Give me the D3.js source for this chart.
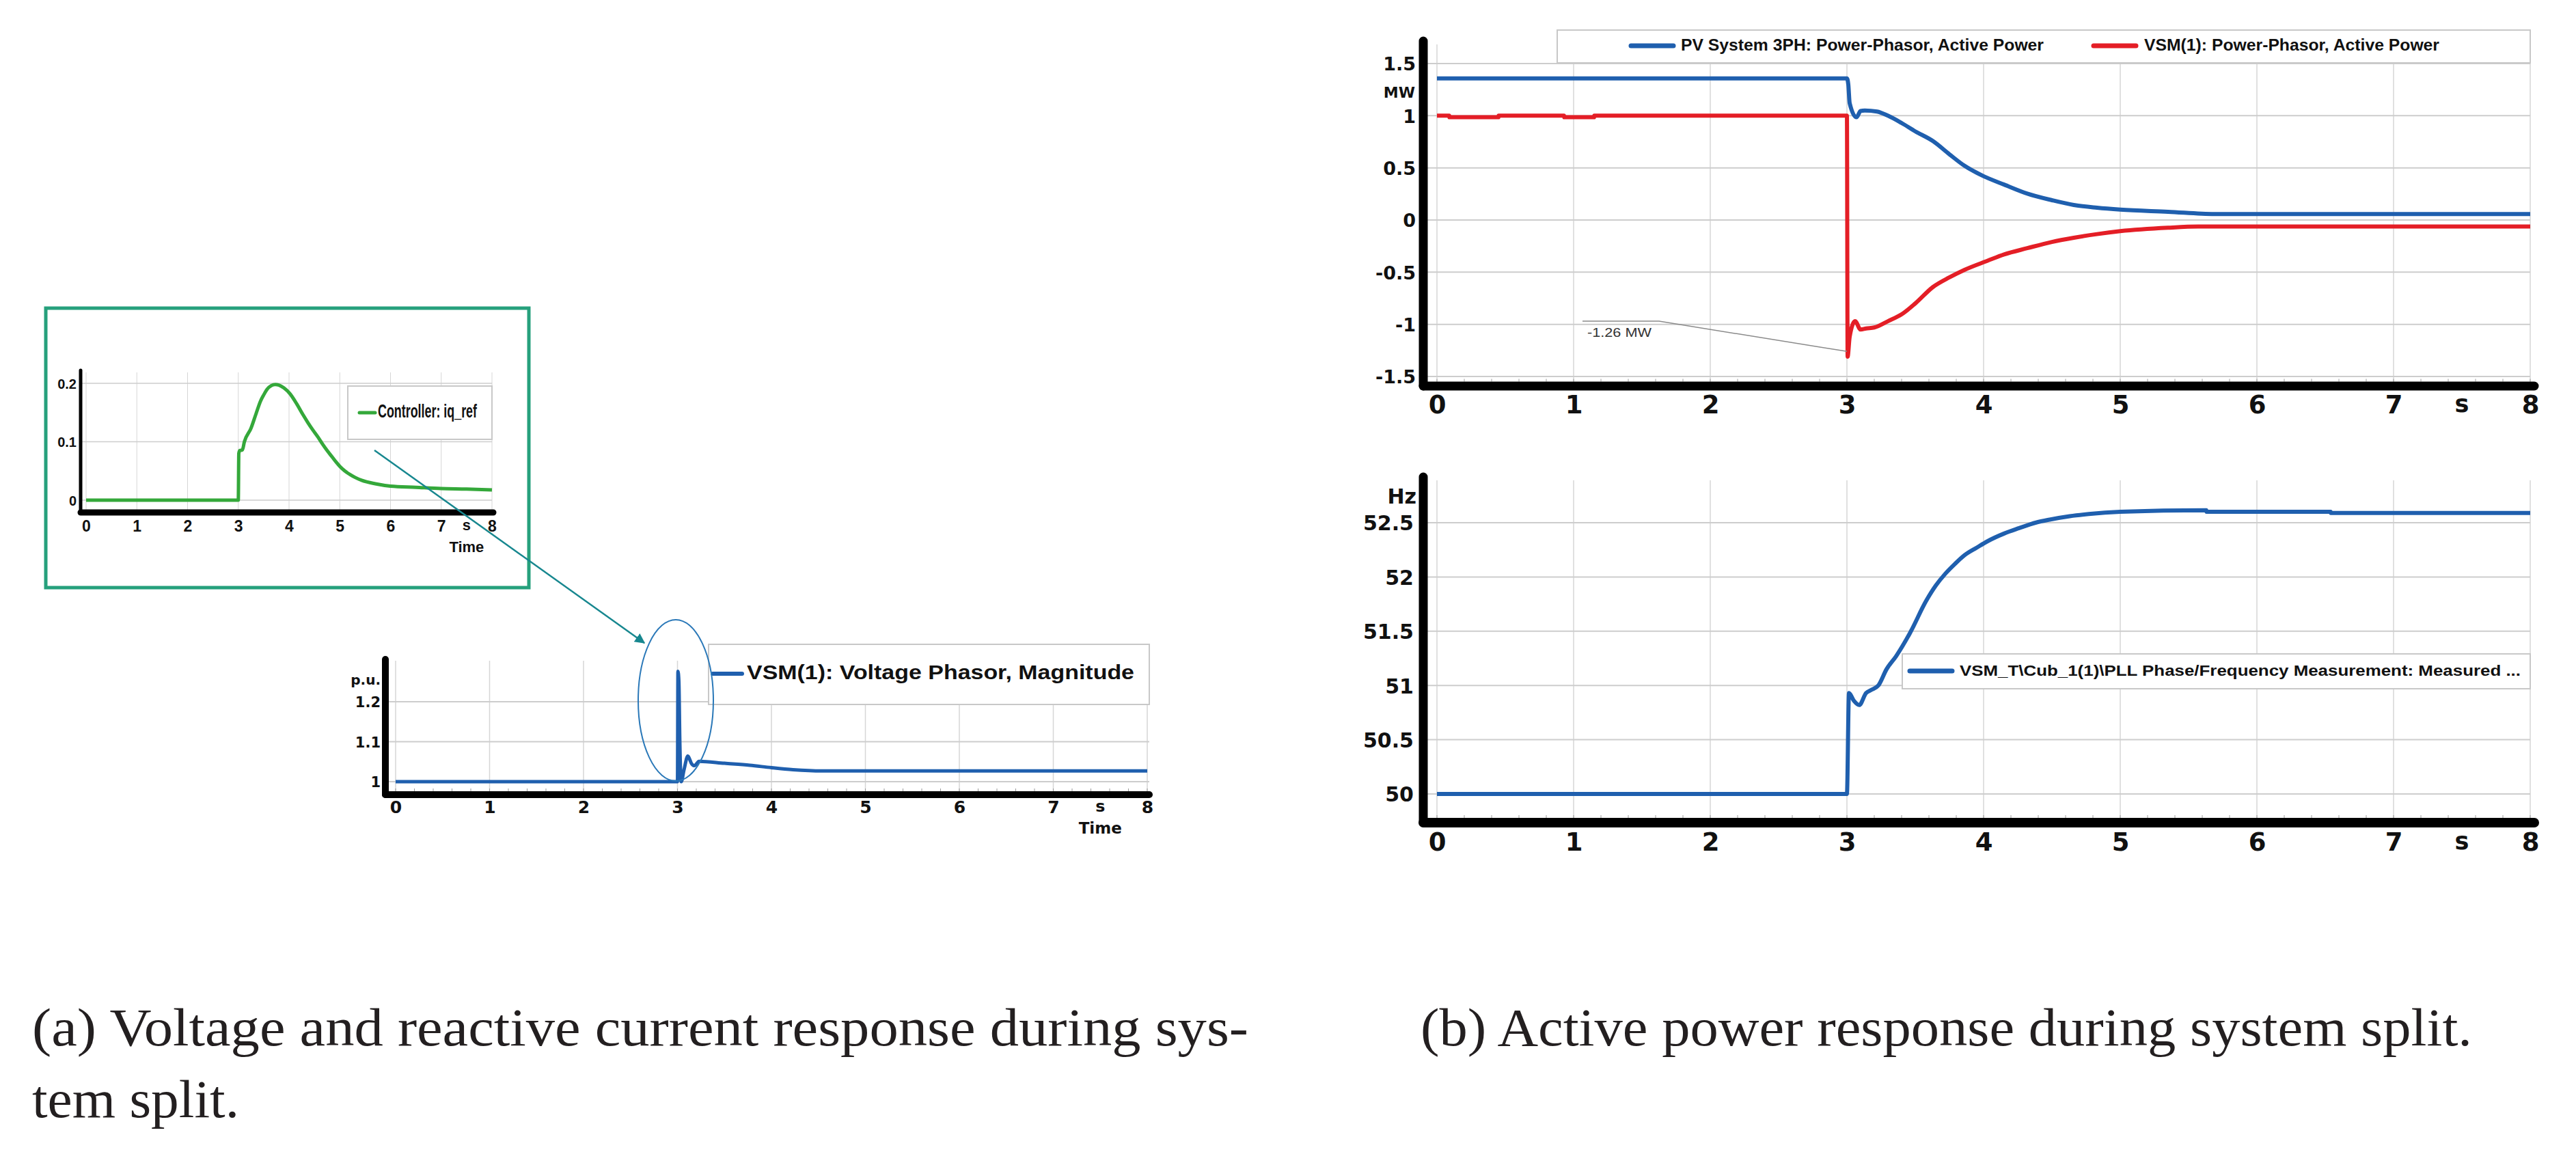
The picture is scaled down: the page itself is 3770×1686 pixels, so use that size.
<!DOCTYPE html>
<html><head><meta charset="utf-8">
<script src="https://cdn.jsdelivr.net/npm/d3@7"></script>
<style>html,body{margin:0;padding:0;background:#fff} svg{display:block}</style>
</head><body>
<svg id="chart" width="3770" height="1686"></svg>
<script>
// ---------------- DATA ----------------
const timeTicks = [0, 1, 2, 3, 4, 5, 6, 7, 8];
const timeTickLabels = ["0", "1", "2", "3", "4", "5", "6", "7", "8"];

// Inset: Controller iq_ref
const iqTicks = [0, 0.1, 0.2];
const iqTickLabels = ["0", "0.1", "0.2"];
const iqTime = [0, 3.0, 3.01, 3.03, 3.08, 3.12, 3.25, 3.35, 3.44, 3.5, 3.57, 3.65, 3.73, 3.8, 3.9, 4.02, 4.15, 4.27, 4.37, 4.47, 4.57, 4.66, 4.75, 4.85, 4.93, 5.01, 5.1, 5.2, 5.3, 5.43, 5.7, 6.0, 6.5, 7.0, 7.5, 8.0];
const iqRef  = [0, 0, 0.08, 0.085, 0.086, 0.1, 0.123, 0.148, 0.17, 0.18, 0.19, 0.196, 0.198, 0.197, 0.192, 0.182, 0.165, 0.147, 0.133, 0.12, 0.108, 0.096, 0.085, 0.074, 0.065, 0.057, 0.05, 0.044, 0.039, 0.034, 0.028, 0.024, 0.022, 0.02, 0.019, 0.0175];
const iqLegend = "Controller: iq_ref";

// Voltage magnitude
const vTicks = [1, 1.1, 1.2];
const vTickLabels = ["1", "1.1", "1.2"];
const vTime = [0, 3.0, 3.005, 3.015, 3.025, 3.04, 3.07, 3.11, 3.15, 3.18, 3.23, 3.5, 3.77, 4.0, 4.23, 4.54, 8.0];
const vMag  = [1.0, 1.0, 1.276, 1.25, 1.1, 1.0, 1.03, 1.064, 1.045, 1.04, 1.051, 1.046, 1.041, 1.035, 1.03, 1.027, 1.027];
const vLegend = "VSM(1): Voltage Phasor, Magnitude";

// Active power
const pTicks = [-1.5, -1, -0.5, 0, 0.5, 1, 1.5];
const pTickLabels = ["-1.5", "-1", "-0.5", "0", "0.5", "1", "1.5"];
const pvTime  = [0, 3.0, 3.01, 3.02, 3.07, 3.1, 3.13, 3.22, 3.3, 3.4, 3.5, 3.63, 3.75, 3.86, 4.0, 4.15, 4.32, 4.5, 4.66, 4.83, 5.0, 5.35, 5.69, 8.0];
const pvPower = [1.357, 1.357, 1.30, 1.12, 0.985, 1.045, 1.05, 1.04, 1.0, 0.93, 0.85, 0.756, 0.63, 0.52, 0.42, 0.34, 0.253, 0.19, 0.144, 0.118, 0.1, 0.079, 0.057, 0.057];
const vsmTime  = [0, 0.09, 0.091, 0.45, 0.451, 0.93, 0.931, 1.15, 1.151, 3.0, 3.005, 3.02, 3.06, 3.1, 3.14, 3.2, 3.3, 3.4, 3.5, 3.63, 3.75, 3.86, 4.03, 4.15, 4.32, 4.5, 4.66, 4.83, 5.0, 5.35, 5.57, 8.0];
const vsmPower = [1.0, 1.0, 0.985, 0.985, 1.0, 1.0, 0.985, 0.985, 1.0, 1.0, -1.31, -1.12, -0.97, -1.05, -1.04, -1.03, -0.97, -0.904, -0.8, -0.642, -0.55, -0.478, -0.39, -0.33, -0.27, -0.21, -0.17, -0.135, -0.107, -0.074, -0.063, -0.063];
const pLegend = ["PV System 3PH: Power-Phasor, Active Power", "VSM(1): Power-Phasor, Active Power"];
const annotTime = 3.0;
const annotValue = -1.26;
const annotText = "-1.26 MW";

// Frequency
const fTicks = [50, 50.5, 51, 51.5, 52, 52.5];
const fTickLabels = ["50", "50.5", "51", "51.5", "52", "52.5"];
const fTime = [0, 3.0, 3.015, 3.05, 3.09, 3.14, 3.18, 3.23, 3.29, 3.36, 3.46, 3.58, 3.65, 3.72, 3.79, 3.86, 3.95, 4.03, 4.15, 4.26, 4.38, 4.49, 4.63, 4.77, 5.0, 5.63, 5.631, 6.54, 6.541, 8.0];
const freq  = [50, 50, 50.93, 50.86, 50.82, 50.93, 50.96, 51.0, 51.15, 51.27, 51.48, 51.78, 51.92, 52.03, 52.12, 52.2, 52.27, 52.33, 52.4, 52.45, 52.5, 52.53, 52.56, 52.58, 52.6, 52.615, 52.6, 52.6, 52.59, 52.59];
const fLegend = "VSM_T\\Cub_1(1)\\PLL Phase/Frequency Measurement: Measured ...";

const captionA = ["(a) Voltage and reactive current response during sys-", "tem split."];
const captionB = "(b) Active power response during system split.";

// ---------------- DRAWING ----------------
const svg = d3.select("#chart");
const BLUE = "#1f5fae", RED = "#e41e26", GREEN = "#34a83a";
const TICKFONT = "'DejaVu Sans', 'Liberation Sans', sans-serif";
const LEGFONT = "'Liberation Sans', Arial, sans-serif";
const NARROW = "'Liberation Sans Narrow', 'Liberation Sans', sans-serif";

function drawPanel(c) {
  const g = svg.append("g");
  const x = d3.scaleLinear().domain([0, 8]).range(c.xRange);
  const y = d3.scaleLinear().domain(c.yDomain).range(c.yRange);
  g.append("g").selectAll("line").data(timeTicks).join("line")
    .attr("x1", d => x(d)).attr("x2", d => x(d))
    .attr("y1", c.gridTop).attr("y2", c.axisY)
    .attr("stroke", "#d6d6d6").attr("stroke-width", c.vgW || 1.5);
  g.append("g").selectAll("line").data(c.yTicks).join("line")
    .attr("x1", c.axisX).attr("x2", c.gridRight)
    .attr("y1", d => y(d)).attr("y2", d => y(d))
    .attr("stroke", "#cdcdcd").attr("stroke-width", c.hgW || 2);
  g.append("g").selectAll("line").data(x.ticks(32)).join("line")
    .attr("x1", d => x(d)).attr("x2", d => x(d))
    .attr("y1", c.axisY - c.xBarW / 2 - c.minorLen).attr("y2", c.axisY - c.xBarW / 2)
    .attr("stroke", "#9a9a9a").attr("stroke-width", 1);
  const line = d3.line().x(d => x(d[0])).y(d => y(d[1])).curve(d3.curveMonotoneX);
  c.series.forEach(s => {
    g.append("path").datum(d3.zip(s.t, s.v))
      .attr("d", line).attr("fill", "none")
      .attr("stroke", s.color).attr("stroke-width", s.width)
      .attr("stroke-linejoin", "round");
  });
  if (c.legend) {
    const L = c.legend;
    g.append("rect").attr("x", L.x).attr("y", L.y).attr("width", L.w).attr("height", L.h)
      .attr("fill", "#fff").attr("stroke", "#c8c8c8").attr("stroke-width", 2);
    L.items.forEach(it => {
      g.append("line").attr("x1", it.lx1).attr("x2", it.lx2).attr("y1", it.ly).attr("y2", it.ly)
        .attr("stroke", it.color).attr("stroke-width", it.lw).attr("stroke-linecap", "round");
      g.append("text").attr("x", it.tx).attr("y", it.ty).text(it.text)
        .attr("font-family", L.font).attr("font-weight", "bold").attr("font-size", L.fs)
        .attr("textLength", it.tl).attr("lengthAdjust", "spacingAndGlyphs").attr("fill", "#111");
    });
  }
  g.append("line").attr("x1", c.axisX).attr("x2", c.axisX).attr("y1", c.axisTop).attr("y2", c.axisY)
    .attr("stroke", "#000").attr("stroke-width", c.yBarW).attr("stroke-linecap", "round");
  g.append("line").attr("x1", c.axisX).attr("x2", c.axisRight).attr("y1", c.axisY).attr("y2", c.axisY)
    .attr("stroke", "#000").attr("stroke-width", c.xBarW).attr("stroke-linecap", "round");
  const ya = g.append("g").attr("transform", `translate(${c.yLabelX},0)`)
    .call(d3.axisLeft(y).tickValues(c.yTicks).tickFormat((d, i) => c.yLabels[i]).tickSize(0).tickPadding(0));
  ya.select(".domain").remove();
  ya.selectAll("text").attr("font-family", c.font).attr("font-weight", "bold")
    .attr("font-size", c.yFont).attr("fill", "#111").attr("dy", "0.36em");
  const xa = g.append("g").attr("transform", `translate(0,${c.xBaseline})`)
    .call(d3.axisBottom(x).tickValues(timeTicks).tickFormat((d, i) => timeTickLabels[i]).tickSize(0).tickPadding(0));
  xa.select(".domain").remove();
  xa.selectAll("text").attr("y", 0).attr("dy", null).attr("font-family", c.font).attr("font-weight", "bold")
    .attr("font-size", c.xFont).attr("fill", "#111");
  g.append("text").attr("x", x(7.5)).attr("y", c.xBaseline - 2).attr("text-anchor", "middle")
    .attr("font-family", c.font).attr("font-weight", "bold").attr("font-size", c.xFont * 0.95).attr("fill", "#111").text("s");
  if (c.timeLabel) {
    g.append("text").attr("x", x(7.5)).attr("y", c.timeLabel.y).attr("text-anchor", "middle")
      .attr("font-family", c.font).attr("font-weight", "bold").attr("font-size", c.timeLabel.fs)
      .attr("fill", "#111").text("Time");
  }
  if (c.unit) {
    g.append("text").attr("x", c.unit.x).attr("y", c.unit.y).attr("text-anchor", "end")
      .attr("font-family", c.font).attr("font-weight", "bold").attr("font-size", c.unit.fs)
      .attr("fill", "#111").text(c.unit.text);
  }
  return { g, x, y };
}

// ---- inset box (a) ----
svg.append("rect").attr("x", 67).attr("y", 451).attr("width", 707).attr("height", 409)
  .attr("fill", "#fff").attr("stroke", "#26a07c").attr("stroke-width", 5);

drawPanel({
  xRange: [126, 720], yDomain: [0, 0.2], yRange: [732, 561],
  gridTop: 545, gridRight: 720, axisX: 118, axisTop: 542, axisY: 750, axisRight: 722,
  yBarW: 5, xBarW: 9, minorLen: 0, vgW: 1, hgW: 1.5,
  yTicks: iqTicks, yLabels: iqTickLabels, yLabelX: 112, yFont: 20, xBaseline: 778, xFont: 23,
  font: NARROW, timeLabel: { y: 808, fs: 22 },
  series: [{ t: iqTime, v: iqRef, color: GREEN, width: 5 }],
  legend: { x: 509, y: 565, w: 211, h: 78, font: NARROW, fs: 28,
    items: [{ lx1: 526, lx2: 549, ly: 604, lw: 5, color: GREEN, tx: 553, ty: 611, tl: 145, text: iqLegend }] }
});

// ---- voltage plot (a) ----
drawPanel({
  xRange: [579, 1679], yDomain: [1, 1.2], yRange: [1144, 1027],
  gridTop: 967, gridRight: 1682, axisX: 564, axisTop: 965, axisY: 1163, axisRight: 1682,
  yBarW: 10, xBarW: 10, minorLen: 4,
  yTicks: vTicks, yLabels: vTickLabels, yLabelX: 557, yFont: 21, xBaseline: 1190, xFont: 25,
  font: TICKFONT, timeLabel: { y: 1220, fs: 23 },
  unit: { text: "p.u.", x: 557, y: 1002, fs: 20 },
  series: [{ t: vTime, v: vMag, color: BLUE, width: 5 }],
  legend: { x: 1037, y: 943, w: 645, h: 88, font: LEGFONT, fs: 29,
    items: [{ lx1: 1043, lx2: 1086, ly: 986, lw: 6, color: BLUE, tx: 1093, ty: 994, tl: 567, text: vLegend }] }
});

// ellipse highlight and arrow
svg.append("defs").append("marker").attr("id", "arr").attr("viewBox", "0 0 10 10")
  .attr("refX", 9).attr("refY", 5).attr("markerWidth", 6).attr("markerHeight", 6)
  .attr("orient", "auto").append("path").attr("d", "M0,0 L10,5 L0,10 z").attr("fill", "#17878f");
svg.append("ellipse").attr("cx", 989).attr("cy", 1025).attr("rx", 55).attr("ry", 118)
  .attr("fill", "none").attr("stroke", "#2a78b8").attr("stroke-width", 2);
svg.append("line").attr("x1", 548).attr("y1", 659).attr("x2", 943).attr("y2", 941)
  .attr("stroke", "#17878f").attr("stroke-width", 2.5).attr("marker-end", "url(#arr)");

// ---- active power plot (b) ----
const pp = drawPanel({
  xRange: [2103, 3703], yDomain: [-1.5, 1.5], yRange: [551, 93],
  gridTop: 65, gridRight: 3703, axisX: 2083, axisTop: 60, axisY: 565, axisRight: 3709,
  yBarW: 13, xBarW: 13, minorLen: 4,
  yTicks: pTicks, yLabels: pTickLabels, yLabelX: 2072, yFont: 27, xBaseline: 605, xFont: 37,
  font: TICKFONT,
  unit: { text: "MW", x: 2071, y: 143, fs: 22 },
  series: [{ t: pvTime, v: pvPower, color: BLUE, width: 6 }, { t: vsmTime, v: vsmPower, color: RED, width: 6 }],
  legend: { x: 2279, y: 44, w: 1424, h: 48, font: LEGFONT, fs: 24,
    items: [
      { lx1: 2387, lx2: 2449, ly: 67, lw: 7, color: BLUE, tx: 2460, ty: 74, tl: 531, text: pLegend[0] },
      { lx1: 3064, lx2: 3126, ly: 67, lw: 7, color: RED, tx: 3138, ty: 74, tl: 432, text: pLegend[1] }] }
});
{
  const ax = pp.x(annotTime), ay = pp.y(annotValue);
  svg.append("polyline").attr("points", `2316,470 2428,470 ${ax},${ay}`)
    .attr("fill", "none").attr("stroke", "#8a8a8a").attr("stroke-width", 1.5);
  svg.append("text").attr("x", 2323).attr("y", 493).text(annotText)
    .attr("font-family", LEGFONT).attr("font-size", 19).attr("fill", "#333")
    .attr("textLength", 94).attr("lengthAdjust", "spacingAndGlyphs");
}

// ---- frequency plot (b) ----
drawPanel({
  xRange: [2103, 3703], yDomain: [50, 52.5], yRange: [1162, 765],
  gridTop: 703, gridRight: 3703, axisX: 2083, axisTop: 698, axisY: 1204, axisRight: 3709,
  yBarW: 13, xBarW: 14, minorLen: 4,
  yTicks: fTicks, yLabels: fTickLabels, yLabelX: 2069, yFont: 30, xBaseline: 1245, xFont: 37,
  font: TICKFONT,
  unit: { text: "Hz", x: 2073, y: 737, fs: 30 },
  series: [{ t: fTime, v: freq, color: BLUE, width: 6 }],
  legend: { x: 2784, y: 957, w: 919, h: 51, font: LEGFONT, fs: 22,
    items: [{ lx1: 2795, lx2: 2857, ly: 982, lw: 7, color: BLUE, tx: 2868, ty: 989, tl: 821, text: fLegend }] }
});

// ---- captions ----
const capFont = "'Liberation Serif', 'DejaVu Serif', serif";
svg.append("text").attr("x", 47).attr("y", 1530).text(captionA[0])
  .attr("font-family", capFont).attr("font-size", 78).attr("fill", "#231f20")
  .attr("textLength", 1780).attr("lengthAdjust", "spacingAndGlyphs");
svg.append("text").attr("x", 47).attr("y", 1635).text(captionA[1])
  .attr("font-family", capFont).attr("font-size", 78).attr("fill", "#231f20")
  .attr("textLength", 303).attr("lengthAdjust", "spacingAndGlyphs");
svg.append("text").attr("x", 2079).attr("y", 1530).text(captionB)
  .attr("font-family", capFont).attr("font-size", 78).attr("fill", "#231f20")
  .attr("textLength", 1539).attr("lengthAdjust", "spacingAndGlyphs");
</script>
</body></html>
